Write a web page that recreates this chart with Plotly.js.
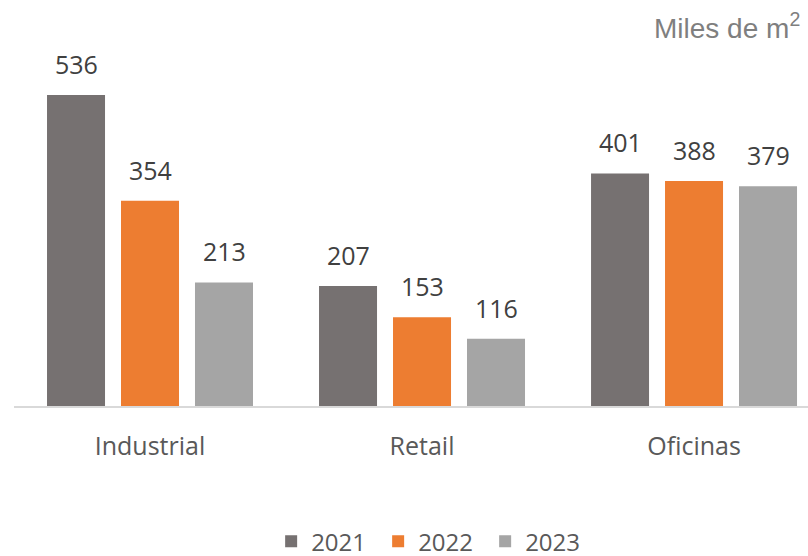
<!DOCTYPE html>
<html>
<head>
<meta charset="utf-8">
<script src="https://cdn.plot.ly/plotly-3.0.1.min.js"></script>
<style>html,body{margin:0;padding:0;background:#fff;}#chart{width:808px;height:556px;}</style>
</head>
<body>
<div id="chart"></div>
<script>
const categories = ["Industrial", "Retail", "Oficinas"];
const seriesNames = ["2021", "2022", "2023"];
const values2021 = [536, 207, 401];
const values2022 = [354, 153, 388];
const values2023 = [213, 116, 379];
const colors = ["#767171", "#ED7D31", "#A5A5A5"];
const unitLabel = "Miles de m<sup>2</sup>";

const allValues = [values2021, values2022, values2023];
const traces = allValues.map((vals, i) => ({
  type: "bar",
  name: seriesNames[i],
  x: categories,
  y: vals,
  marker: {color: colors[i]},
  hoverinfo: "none"
}));

const slotPx = 74;
const annotations = [];
allValues.forEach((vals, i) => {
  vals.forEach((v, j) => {
    annotations.push({
      x: categories[j], y: v, xref: "x", yref: "y",
      text: String(v), showarrow: false,
      xshift: (i - 1) * slotPx, yanchor: "bottom", yshift: 12,
      font: {family: "Open Sans", size: 25, color: "#404040"}
    });
  });
});
annotations.push({
  xref: "paper", yref: "paper", x: 1, y: 1, xanchor: "right", yanchor: "middle",
  xshift: -6, yshift: -26,
  text: unitLabel, showarrow: false,
  font: {family: "Liberation Sans", size: 28, color: "#7F7F7F"}
});

const layout = {
  width: 808, height: 556,
  margin: {l: 14, r: 0, t: 0, b: 150},
  paper_bgcolor: "#fff", plot_bgcolor: "#fff",
  barmode: "group", bargap: 0.184, bargroupgap: 0.216,
  xaxis: {
    type: "category", range: [-0.5, 2.419],
    showline: true, linecolor: "#D9D9D9", linewidth: 2,
    ticks: "", showgrid: false, zeroline: false,
    tickfont: {family: "Open Sans", size: 25, color: "#595959"},
    ticklabelstandoff: 17
  },
  yaxis: {range: [0, 700], visible: false, showgrid: false, zeroline: false},
  showlegend: true,
  legend: {
    orientation: "h", x: 0.526, xanchor: "center",
    yref: "container", y: 0.026, yanchor: "middle",
    font: {family: "Open Sans", size: 24, color: "#595959"},
    entrywidth: 62, entrywidthmode: "pixels", traceorder: "normal"
  },
  annotations: annotations
};

Plotly.newPlot("chart", traces, layout, {displayModeBar: false, staticPlot: true});
</script>
</body>
</html>
